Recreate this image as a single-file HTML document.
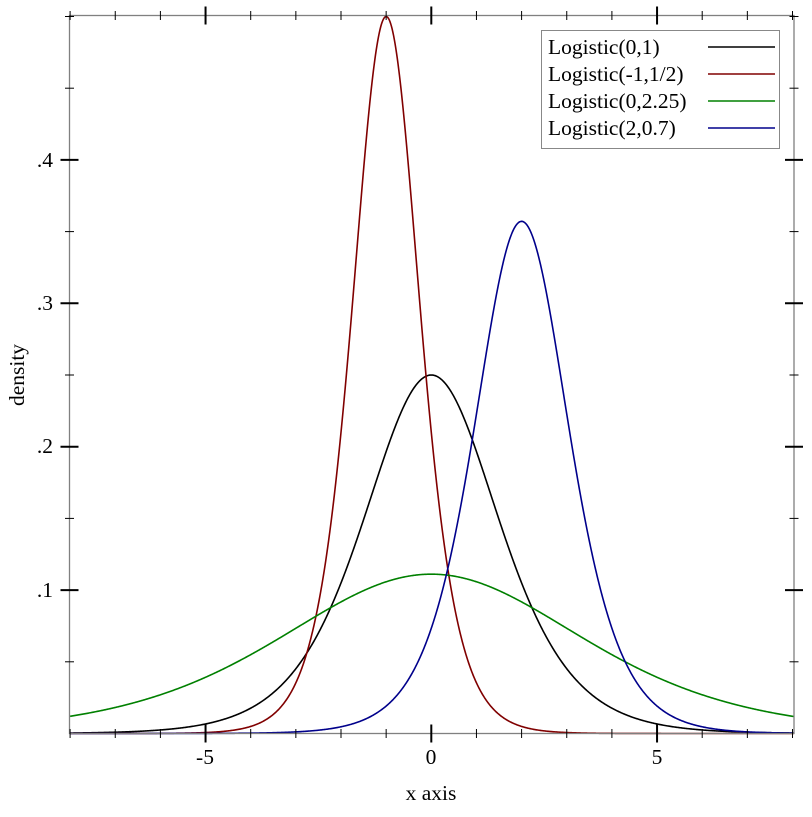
<!DOCTYPE html>
<html><head><meta charset="utf-8"><style>
html,body{margin:0;padding:0;background:#fff}
svg text{font-family:"Liberation Serif",serif;font-size:21.5px;fill:#000}
</style></head><body>
<svg id="s" width="812" height="812" viewBox="0 0 812 812" xmlns="http://www.w3.org/2000/svg">
<rect width="812" height="812" fill="#fff"/>
<g id="curves" fill="none" stroke-width="1.6"></g>
<rect x="69.5" y="15.5" width="724.5" height="718" fill="none" stroke="#808080" stroke-width="1.3"/>
<g id="ticks" stroke="#000" stroke-width="1"></g>
<text x="205" y="764" text-anchor="middle">-5</text>
<text x="431" y="764" text-anchor="middle">0</text>
<text x="657" y="764" text-anchor="middle">5</text>
<text x="431" y="800" text-anchor="middle">x axis</text>
<text x="53" y="167" text-anchor="end">.4</text>
<text x="53" y="310" text-anchor="end">.3</text>
<text x="53" y="453" text-anchor="end">.2</text>
<text x="53" y="597" text-anchor="end">.1</text>
<text transform="translate(24,375) rotate(-90)" text-anchor="middle">density</text>
<rect x="541.5" y="30.5" width="238" height="118" fill="#fff" stroke="#888" stroke-width="1"/>
<text x="548" y="54">Logistic(0,1)</text>
<text x="548" y="81">Logistic(-1,1/2)</text>
<text x="548" y="108">Logistic(0,2.25)</text>
<text x="548" y="135">Logistic(2,0.7)</text>
<line x1="708" y1="47" x2="775" y2="47" stroke="#000" stroke-width="1.6"/>
<line x1="708" y1="74" x2="775" y2="74" stroke="#800000" stroke-width="1.6"/>
<line x1="708" y1="101" x2="775" y2="101" stroke="#008000" stroke-width="1.6"/>
<line x1="708" y1="128" x2="775" y2="128" stroke="#00008b" stroke-width="1.6"/>
</svg>
<script>
var X0=431.3,U=45.15,Y0=733.5,V=1434;
function px(x){return X0+x*U}function py(y){return Y0-y*V}
var g=document.getElementById('curves'),t=document.getElementById('ticks'),ns='http://www.w3.org/2000/svg';
var ser=[[0,1,'#000'],[-1,0.5,'#800000'],[0,2.25,'#008000'],[2,0.7,'#00008b']];
ser.forEach(function(s){var d='';for(var i=0;i<=1000;i++){var x=-8+i*16.03/1000,z=(x-s[0])/s[1],e=Math.exp(-z),y=e/(s[1]*(1+e)*(1+e));d+=(i?'L':'M')+px(x).toFixed(2)+' '+py(y).toFixed(2);}
var p=document.createElementNS(ns,'path');p.setAttribute('d',d);p.setAttribute('stroke',s[2]);g.appendChild(p);});
function ln(a,b,c,d,w){var l=document.createElementNS(ns,'line');l.setAttribute('x1',a);l.setAttribute('y1',b);l.setAttribute('x2',c);l.setAttribute('y2',d);if(w)l.setAttribute('stroke-width',w);t.appendChild(l);}
for(var k=-8;k<=8;k++){var x=px(k),maj=(k%5==0),h=maj?9:4.5,w=maj?2:1;ln(x,15.5-h,x,15.5+h,w);ln(x,733.5-h,x,733.5+h,w);}
for(var j=1;j<=10;j++){var yv=j*0.05,y=py(yv),maj=(j%2==0)&&j<10,h=maj?9:4.5,w=maj?2:1;ln(69.5-h,y,69.5+h,y,w);ln(794-h,y,794+h,y,w);}
</script>
</body></html>
